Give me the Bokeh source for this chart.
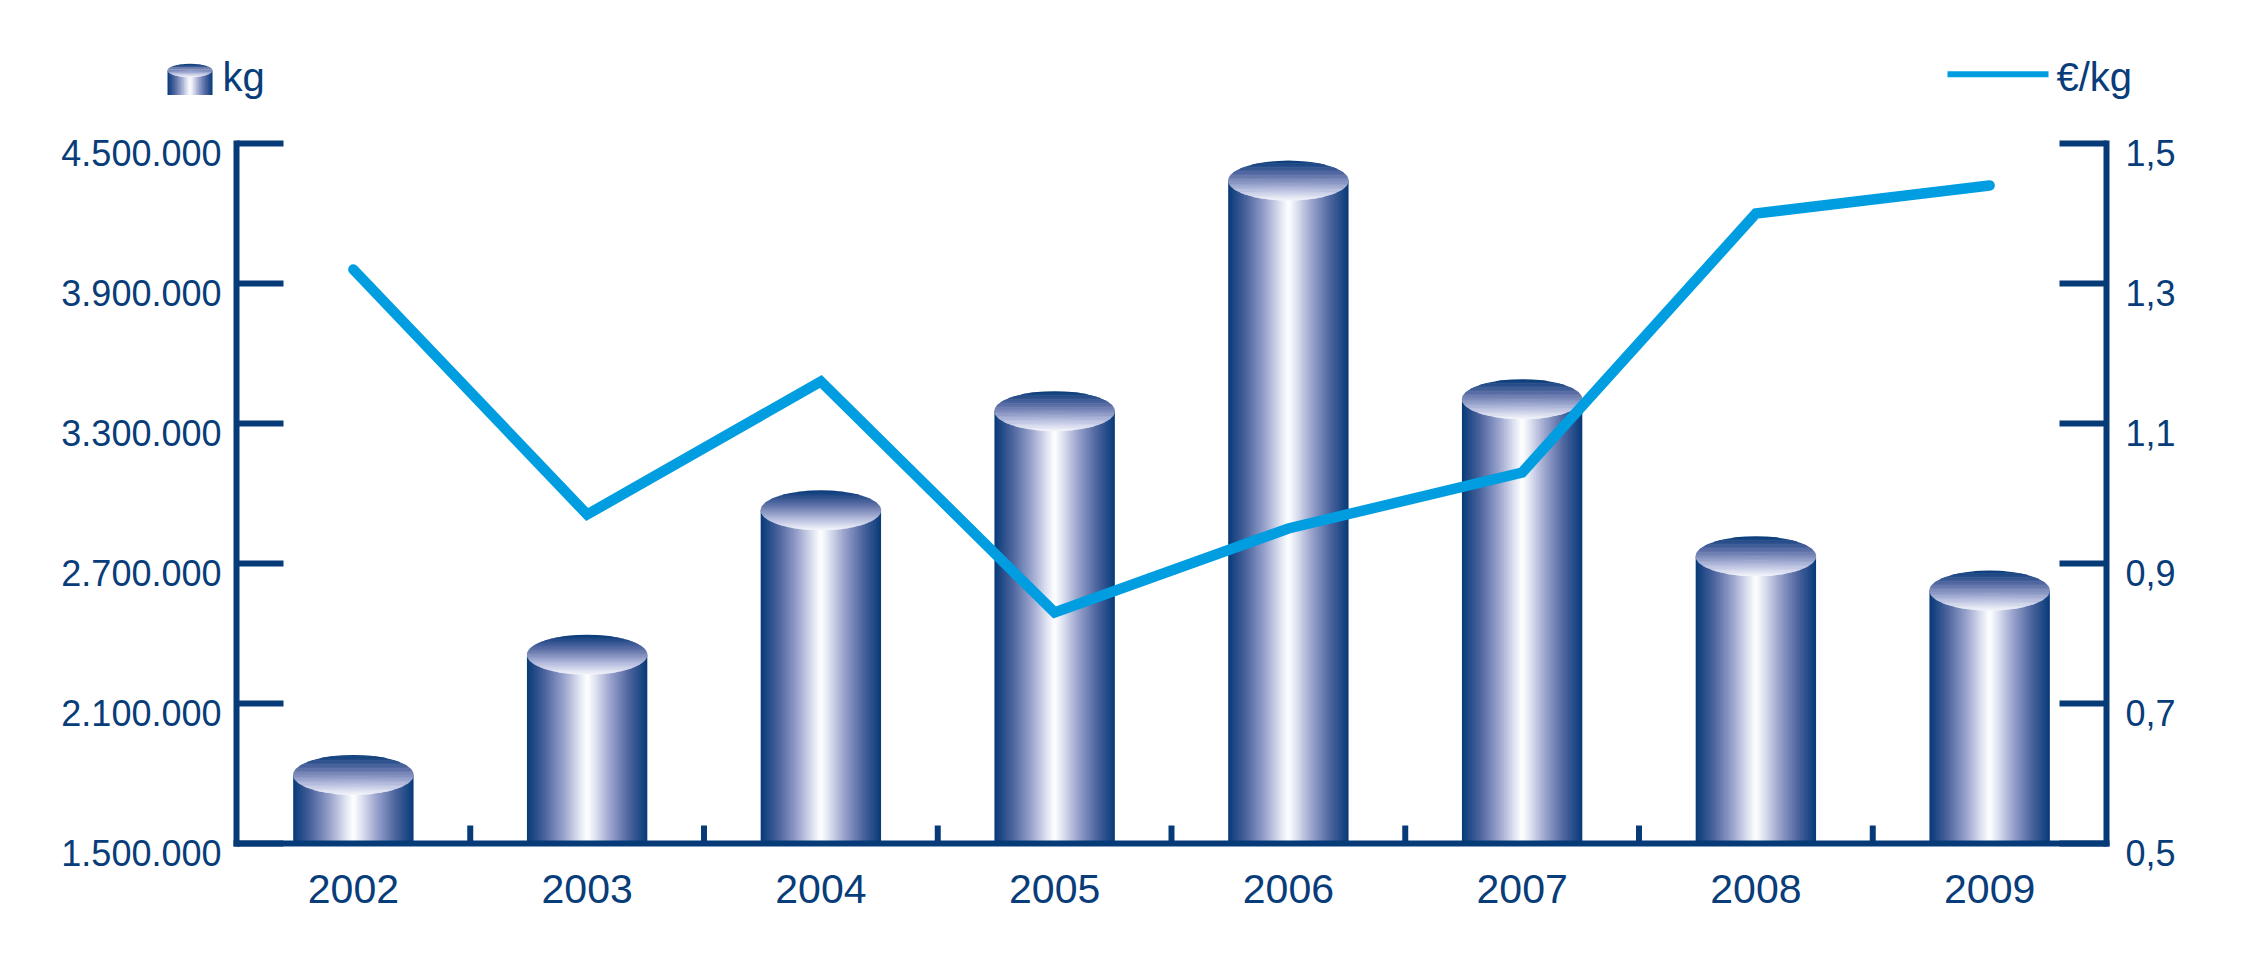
import numpy as np
from bokeh.plotting import figure
from bokeh.models import Range1d, ColumnDataSource
from bokeh.embed import file_html
from bokeh.resources import INLINE
from bokeh.core.properties import value

# ---------------- data ----------------
years = ["2002", "2003", "2004", "2005", "2006", "2007", "2008", "2009"]
kg = [1794000, 2309000, 2928000, 3353000, 4341000, 3404000, 2731000, 2584000]
eur_per_kg = [1.32, 0.97, 1.16, 0.83, 0.95, 1.03, 1.40, 1.44]
kg_ticks = [1500000, 2100000, 2700000, 3300000, 3900000, 4500000]
kg_tick_labels = ["1.500.000", "2.100.000", "2.700.000", "3.300.000", "3.900.000", "4.500.000"]
price_ticks = [0.5, 0.7, 0.9, 1.1, 1.3, 1.5]
price_tick_labels = ["0,5", "0,7", "0,9", "1,1", "1,3", "1,5"]
legend_labels = ["kg", "€/kg"]

# ---------------- style / layout ----------------
NAVY = "#063B78"
TEXT = "#083D7A"
CYAN = "#009EE0"
FONT = "Liberation Sans"
KG_MIN, KG_MAX = kg_ticks[0], kg_ticks[-1]
P_MIN, P_MAX = price_ticks[0], price_ticks[-1]
N = len(years)

W, H = 2240, 950
AX_LEFT_PX = 236          # canvas x of the left value axis
AX_BOTTOM_PX = 843        # canvas y of the category axis
PLOT_W_PX = 1870
PLOT_H_PX = 700
PXU = PLOT_W_PX / N
KG_PER_PX = (KG_MAX - KG_MIN) / PLOT_H_PX
P_PER_PX = (P_MAX - P_MIN) / PLOT_H_PX
BAR_W = 0.515
TICK_LEN = 47 / PXU
SEP_LEN = 18 * KG_PER_PX

x_start = -0.5 - AX_LEFT_PX / PXU
x_end = x_start + W / PXU
y_start = KG_MIN - (H - AX_BOTTOM_PX) * KG_PER_PX
y_end = KG_MIN + AX_BOTTOM_PX * KG_PER_PX
p_start = P_MIN - (H - AX_BOTTOM_PX) * P_PER_PX
p_end = P_MIN + AX_BOTTOM_PX * P_PER_PX


def gx(px):   # canvas pixel -> x data (legend placement only)
    return x_start + px / PXU


def gy(py):   # canvas pixel -> kg data (legend placement only)
    return KG_MIN + (AX_BOTTOM_PX - py) * KG_PER_PX


BODY_STOPS = [(0.0, (255, 255, 255)), (0.12, (226, 230, 243)), (0.40, (150, 160, 202)),
              (0.70, (76, 100, 158)), (1.0, (6, 58, 120))]
TOP_STOPS = [(0.0, (6, 58, 120)), (0.35, (92, 110, 166)), (0.70, (178, 186, 220)), (1.0, (248, 249, 253))]


def grad(stops, t):
    t = min(max(t, 0.0), 1.0)
    for (p0, c0), (p1, c1) in zip(stops[:-1], stops[1:]):
        if t <= p1:
            f = (t - p0) / (p1 - p0)
            return "#%02x%02x%02x" % tuple(int(round(a + (b - a) * f)) for a, b in zip(c0, c1))
    return "#%02x%02x%02x" % stops[-1][1]


def cylinders(centers, tops, bottom, a, b, n_strips=60, n_bands=30):
    q = dict(left=[], right=[], top=[], bottom=[], color=[])
    e = dict(xs=[], ys=[], color=[])
    for cx, top in zip(centers, tops):
        w = 2 * a / n_strips
        for k in range(n_strips):
            l = cx - a + k * w
            r = min(l + 1.7 * w, cx + a)
            d = abs(l + w / 2 - cx) / a
            q["left"].append(l); q["right"].append(r)
            q["top"].append(top); q["bottom"].append(bottom)
            q["color"].append(grad(BODY_STOPS, d))
        edges = np.linspace(-1, 1, n_bands + 1)
        for j in range(n_bands):
            v0 = max(-1.0, edges[j] - 0.03)
            v1 = edges[j + 1]
            vv = np.linspace(v0, v1, 8)
            half = a * np.sqrt(np.clip(1 - vv ** 2, 0, None))
            e["xs"].append(list(cx + half) + list((cx - half)[::-1]))
            e["ys"].append(list(top + b * vv) + list(top + b * vv[::-1]))
            e["color"].append(grad(TOP_STOPS, (1 - (v0 + v1) / 2) / 2))
    return q, e


p = figure(width=W, height=H, x_range=Range1d(x_start, x_end), y_range=Range1d(y_start, y_end),
           output_backend="svg", toolbar_location=None, x_axis_type=None, y_axis_type=None,
           min_border=0, outline_line_color=None,
           background_fill_color="white", border_fill_color="white")
p.extra_y_ranges = {"price": Range1d(p_start, p_end)}

xs = list(range(N))

# ---- cylinders (bars) ----
q, e = cylinders(xs, kg, KG_MIN, BAR_W / 2, 20 * KG_PER_PX)
p.quad(left="left", right="right", top="top", bottom="bottom", fill_color="color",
       line_color=None, source=ColumnDataSource(q))
p.patches(xs="xs", ys="ys", fill_color="color", line_color=None, source=ColumnDataSource(e))

# ---- price line ----
p.line(x=xs, y=eur_per_kg, y_range_name="price", line_color=CYAN, line_width=10.5,
       line_join="miter", line_cap="round")

# ---- category axis ----
p.segment(x0=[-0.5], y0=[KG_MIN], x1=[N - 0.5], y1=[KG_MIN], line_color=NAVY, line_width=6,
          line_cap="square")
seps = [i + 0.5 for i in xs[:-1]]
p.segment(x0=seps, y0=[KG_MIN] * len(seps), x1=seps, y1=[KG_MIN + SEP_LEN] * len(seps),
          line_color=NAVY, line_width=6)
p.text(x=xs, y=[KG_MIN] * N, text=years, y_offset=45, text_align="center", text_baseline="middle",
       text_font=value(FONT), text_font_size="41px", text_color=TEXT)

# ---- left value axis (kg) ----
p.segment(x0=[-0.5], y0=[KG_MIN], x1=[-0.5], y1=[KG_MAX], line_color=NAVY, line_width=6,
          line_cap="square")
p.segment(x0=[-0.5] * len(kg_ticks), y0=kg_ticks, x1=[-0.5 + TICK_LEN] * len(kg_ticks), y1=kg_ticks,
          line_color=NAVY, line_width=6)
p.text(x=[-0.5] * len(kg_ticks), y=kg_ticks, text=kg_tick_labels, x_offset=-15, y_offset=9,
       text_align="right", text_baseline="middle", text_font=value(FONT),
       text_font_size="36px", text_color=TEXT)

# ---- right value axis (EUR/kg) ----
p.segment(x0=[N - 0.5], y0=[P_MIN], x1=[N - 0.5], y1=[P_MAX], y_range_name="price",
          line_color=NAVY, line_width=6, line_cap="square")
p.segment(x0=[N - 0.5 - TICK_LEN] * len(price_ticks), y0=price_ticks, x1=[N - 0.5] * len(price_ticks),
          y1=price_ticks, y_range_name="price", line_color=NAVY, line_width=6)
p.text(x=[N - 0.5] * len(price_ticks), y=price_ticks, text=price_tick_labels, y_range_name="price",
       x_offset=19, y_offset=9, text_align="left", text_baseline="middle", text_font=value(FONT),
       text_font_size="36px", text_color=TEXT)

# ---- legend ----
lq, le = cylinders([gx(189.5)], [gy(70)], gy(94.5), 22.5 / PXU, 6.7 * KG_PER_PX, n_strips=30, n_bands=12)
p.quad(left="left", right="right", top="top", bottom="bottom", fill_color="color",
       line_color=None, source=ColumnDataSource(lq))
p.patches(xs="xs", ys="ys", fill_color="color", line_color=None, source=ColumnDataSource(le))
p.line(x=[gx(1947), gx(2048)], y=[gy(73.7), gy(73.7)], line_color=CYAN, line_width=6)
p.text(x=[gx(222), gx(2056)], y=[gy(76), gy(76)], text=legend_labels,
       text_font=value(FONT), text_font_size="40px", text_color=TEXT,
       text_baseline="middle", text_align="left")

open("out.html", "w").write(file_html(p, INLINE))
